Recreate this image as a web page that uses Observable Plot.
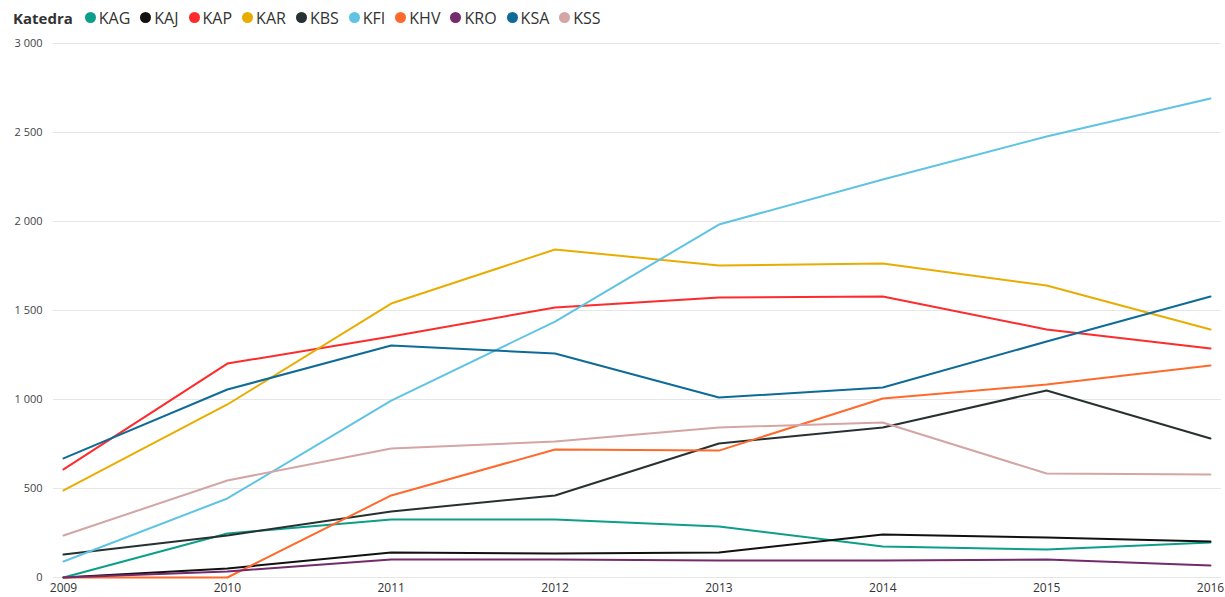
<!DOCTYPE html>
<html>
<head>
<meta charset="utf-8">
<script src="https://cdn.jsdelivr.net/npm/d3@7"></script>
<script src="https://cdn.jsdelivr.net/npm/@observablehq/plot@0.6"></script>
<style>
  html, body { margin: 0; padding: 0; background: #fff; }
  body { width: 1225px; height: 597px; overflow: hidden; font-family: "Open Sans", "Segoe UI", sans-serif; }
  #legend { display: flex; align-items: center; height: 35px; padding-left: 13px; font-size: 16px; color: #333; white-space: nowrap; }
  #legend .title { font-weight: bold; margin-right: 12px; color: #333; font-size: 15px; }
  #legend .item { display: flex; align-items: center; margin-right: 10px; }
  #legend .dot { width: 11px; height: 11px; border-radius: 50%; margin-right: 3px; }
  #chart svg { display: block; }
</style>
</head>
<body>
<div id="legend"></div>
<div id="chart"></div>
<script>
const years = [2009, 2010, 2011, 2012, 2013, 2014, 2015, 2016];
const categories = ["KAG", "KAJ", "KAP", "KAR", "KBS", "KFI", "KHV", "KRO", "KSA", "KSS"];
const colors = ["#0d9e8a", "#111111", "#fd2b2b", "#e8ad00", "#273131", "#5fc3e4", "#ff6a2c", "#742a6c", "#0e6b98", "#d3a5a5"];
const yTicks = [0, 500, 1000, 1500, 2000, 2500, 3000];

const KAG = [0, 247, 326, 326, 287, 174, 157, 197];
const KAJ = [0, 51, 140, 135, 140, 242, 225, 202];
const KAP = [607, 1202, 1354, 1517, 1573, 1579, 1393, 1287];
const KAR = [489, 972, 1539, 1843, 1753, 1764, 1640, 1393];
const KBS = [129, 236, 371, 461, 753, 843, 1051, 781];
const KFI = [90, 444, 994, 1438, 1983, 2236, 2478, 2691];
const KHV = [0, 0, 461, 719, 713, 1006, 1084, 1191];
const KRO = [0, 34, 101, 101, 96, 96, 101, 67];
const KSA = [669, 1056, 1303, 1258, 1011, 1067, 1326, 1579];
const KSS = [236, 545, 725, 764, 843, 871, 584, 579];

const seriesValues = {KAG, KAJ, KAP, KAR, KBS, KFI, KHV, KRO, KSA, KSS};
const data = categories.flatMap(c => years.map((y, i) => ({katedra: c, year: y, value: seriesValues[c][i]})));

// legend
const legend = document.getElementById("legend");
const t = document.createElement("span"); t.className = "title"; t.textContent = "Katedra"; legend.appendChild(t);
categories.forEach((c, i) => {
  const it = document.createElement("span"); it.className = "item";
  const d = document.createElement("span"); d.className = "dot"; d.style.background = colors[i];
  const s = document.createElement("span"); s.textContent = c;
  it.appendChild(d); it.appendChild(s); legend.appendChild(it);
});

const fmt = d => d3.format(",")(d).replace(/,/g, " ");

const chart = Plot.plot({
  width: 1225,
  height: 562,
  marginTop: 8,
  marginBottom: 20,
  marginLeft: 53,
  marginRight: 4,
  style: { fontFamily: "'Open Sans', 'Segoe UI', sans-serif", fontSize: "11px", color: "#555", background: "#fff" },
  x: { type: "linear", domain: [2009, 2016], insetLeft: 10, insetRight: 11, ticks: years, tickFormat: d => String(d), label: null },
  y: { domain: [0, 3000], ticks: yTicks, tickFormat: fmt, label: null },
  color: { domain: categories, range: colors },
  marks: [
    Plot.ruleY(yTicks, { stroke: "#e6e6e6", strokeWidth: 1 }),
    Plot.axisY({ ticks: yTicks, tickFormat: fmt, tickSize: 0, tickPadding: 11, fill: "#444", fontSize: 11, label: null }),
    Plot.axisX({ ticks: years, tickFormat: d => String(d), tickSize: 0, tickPadding: 6, fill: "#333", fontSize: 12, label: null }),
    Plot.line(data, { x: "year", y: "value", z: "katedra", stroke: "katedra", strokeWidth: 2, curve: "linear" })
  ]
});
document.getElementById("chart").appendChild(chart);
</script>
</body>
</html>
